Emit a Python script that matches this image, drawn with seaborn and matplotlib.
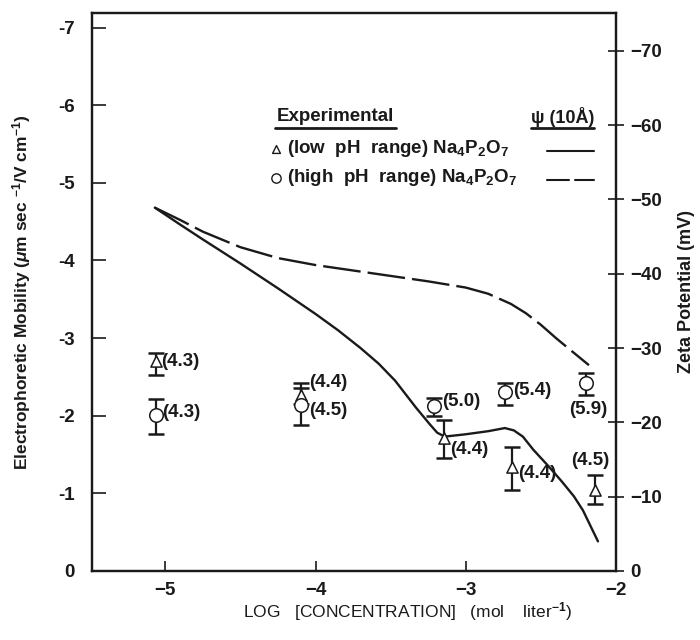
import matplotlib
matplotlib.use("Agg")
import matplotlib.pyplot as plt
import seaborn as sns
from matplotlib.lines import Line2D
from matplotlib.ticker import FixedLocator, FixedFormatter

# ---------------- data ----------------
# low pH range (triangles)
tri_x = [-5.065, -4.10, -3.145, -2.69, -2.14]
tri_y = [-2.70, -2.27, -1.71, -1.34, -1.04]
tri_lo = [-2.81, -2.42, -1.94, -1.60, -1.24]
tri_hi = [-2.52, -2.15, -1.45, -1.04, -0.86]
tri_labels = ["(4.3)", "(4.4)", "(4.4)", "(4.4)", "(4.5)"]

# high pH range (circles)
circ_x = [-5.065, -4.10, -3.21, -2.74, -2.20]
circ_y = [-2.01, -2.14, -2.12, -2.30, -2.42]
circ_lo = [-2.21, -2.36, -2.23, -2.42, -2.55]
circ_hi = [-1.76, -1.88, -2.00, -2.14, -2.26]
circ_labels = ["(4.3)", "(4.5)", "(5.0)", "(5.4)", "(5.9)"]

# psi(10 A) theory, low pH (solid)
solid_x = [-5.07, -4.9, -4.75, -4.5, -4.25, -4.0, -3.85, -3.70, -3.58, -3.47,
           -3.33, -3.24, -3.19, -3.14, -3.0, -2.85, -2.74, -2.68, -2.62, -2.55,
           -2.45, -2.36, -2.28, -2.22, -2.12]
solid_y = [-4.68, -4.46, -4.27, -3.96, -3.64, -3.31, -3.10, -2.87, -2.67, -2.45,
           -2.10, -1.89, -1.78, -1.73, -1.76, -1.80, -1.84, -1.81, -1.73, -1.56,
           -1.35, -1.15, -0.96, -0.78, -0.38]

# psi(10 A) theory, high pH (dashed)
dashed_x = [-5.07, -4.9, -4.75, -4.5, -4.25, -4.0, -3.75, -3.5, -3.25, -3.0,
            -2.85, -2.7, -2.6, -2.5, -2.4, -2.3, -2.18]
dashed_y = [-4.68, -4.52, -4.37, -4.17, -4.03, -3.94, -3.87, -3.80, -3.73, -3.65,
            -3.57, -3.44, -3.32, -3.17, -3.00, -2.84, -2.65]

x_ticks = [-5, -4, -3, -2]
x_tick_labels = ["\u22125", "\u22124", "\u22123", "\u22122"]
y_ticks = [0, -1, -2, -3, -4, -5, -6, -7]
y_tick_labels = ["0", "-1", "-2", "-3", "-4", "-5", "-6", "-7"]
zeta_ticks = [0, -10, -20, -30, -40, -50, -60, -70]
zeta_tick_labels = ["0", "\u221210", "\u221220", "\u221230", "\u221240",
                    "\u221250", "\u221260", "\u221270"]
zeta_per_mobility = 10.45

# ---------------- style ----------------
sns.set_theme(style="ticks")
plt.rcParams['font.family'] = ['Liberation Sans', 'DejaVu Sans']
plt.rcParams['font.weight'] = 'bold'
plt.rcParams['mathtext.fontset'] = 'custom'
plt.rcParams['mathtext.rm'] = 'Liberation Sans:bold'
plt.rcParams['mathtext.it'] = 'Liberation Sans:italic:bold'
plt.rcParams['mathtext.bf'] = 'Liberation Sans:bold'
plt.rcParams['mathtext.default'] = 'rm'

ink = '#1a1a1a'
fig = plt.figure(figsize=(7, 6.4), dpi=100)
ax = fig.add_axes([0.131, 0.108, 0.749, 0.872])

# theory curves
sns.lineplot(x=solid_x, y=solid_y, sort=False, ax=ax, color=ink, lw=1.7,
             estimator=None)
sns.lineplot(x=dashed_x, y=dashed_y, sort=False, ax=ax, color=ink, lw=1.7,
             estimator=None, linestyle=(0, (16, 3)))

# error bars
ax.errorbar(tri_x, tri_y,
            yerr=[[y - lo for y, lo in zip(tri_y, tri_lo)],
                  [hi - y for y, hi in zip(tri_y, tri_hi)]],
            fmt='none', ecolor=ink, elinewidth=1.6, capsize=5.5, capthick=1.8,
            zorder=3)
ax.errorbar(circ_x, circ_y,
            yerr=[[y - lo for y, lo in zip(circ_y, circ_lo)],
                  [hi - y for y, hi in zip(circ_y, circ_hi)]],
            fmt='none', ecolor=ink, elinewidth=1.6, capsize=5.5, capthick=1.8,
            zorder=3)

# markers
sns.scatterplot(x=tri_x, y=tri_y, marker='^', s=65, color='white',
                edgecolor=ink, linewidth=1.1, ax=ax, zorder=4)
sns.scatterplot(x=circ_x, y=circ_y, marker='o', s=95, color='white',
                edgecolor=ink, linewidth=1.1, ax=ax, zorder=4)

# point labels (pH)
tri_offsets = [(6, 0, 'left'), (9, 12, 'left'), (6, -11, 'left'),
               (6, -7, 'left'), (-5, 30, 'center')]
circ_offsets = [(7, 2, 'left'), (9, -6, 'left'), (8, 5, 'left'),
                (8, 2, 'left'), (2, -26, 'center')]
for x, y, t, (dx, dy, ha) in zip(tri_x, tri_y, tri_labels, tri_offsets):
    ax.annotate(t, (x, y), xytext=(dx, dy), textcoords='offset pixels',
                ha=ha, va='center', fontsize=13.5, fontweight='bold', color=ink)
for x, y, t, (dx, dy, ha) in zip(circ_x, circ_y, circ_labels, circ_offsets):
    ax.annotate(t, (x, y), xytext=(dx, dy), textcoords='offset pixels',
                ha=ha, va='center', fontsize=13.5, fontweight='bold', color=ink)

# axes limits / ticks
ax.set_xlim(-5.49, -2.0)
ax.set_ylim(0, -7.19)
ax.xaxis.set_major_locator(FixedLocator(x_ticks))
ax.xaxis.set_major_formatter(FixedFormatter(x_tick_labels))
ax.yaxis.set_major_locator(FixedLocator(y_ticks))
ax.yaxis.set_major_formatter(FixedFormatter(y_tick_labels))
ax.tick_params(axis='y', direction='in', length=10, width=1.2, pad=12,
               labelsize=13.5, colors=ink)
ax.tick_params(axis='x', direction='in', length=7, width=1.2, pad=8,
               labelsize=13.5, colors=ink)
for s in ax.spines.values():
    s.set_linewidth(1.6)
    s.set_color(ink)

ax2 = ax.twinx()
ax2.set_ylim(0, -7.19 * zeta_per_mobility)
ax2.yaxis.set_major_locator(FixedLocator(zeta_ticks))
ax2.yaxis.set_major_formatter(FixedFormatter(zeta_tick_labels))
ax2.tick_params(axis='y', direction='inout', length=12, width=1.2, pad=4,
                labelsize=13.5, colors=ink)
for s in ax2.spines.values():
    s.set_linewidth(1.6)
    s.set_color(ink)

ax.set_ylabel("Electrophoretic Mobility ($\\mathit{\\mu}$m sec $^{-1}$/V cm$^{-1}$)",
              fontsize=12.5, fontweight='bold', labelpad=18, color=ink)
ax2.set_ylabel("Zeta Potential (mV)", fontsize=13, fontweight='bold',
               labelpad=12, color=ink)
fig.text(408 / 700, 1 - 612 / 640,
         "LOG   [CONCENTRATION]   (mol    liter$^{-1}$)",
         ha='center', va='center', fontsize=12.5, fontweight='normal', color=ink)

# legend (custom layout)
tA = ax.transAxes
ax.text(0.352, 0.814, "Experimental", transform=tA, ha='left', va='center',
        fontsize=13.5, fontweight='bold', color=ink)
ax.add_line(Line2D([0.350, 0.580], [0.794, 0.794], transform=tA, color=ink, lw=2))
ax.text(0.958, 0.814, "\u03c8 (10\u00c5)", transform=tA, ha='right', va='center',
        fontsize=13, fontweight='bold', color=ink)
ax.add_line(Line2D([0.838, 0.958], [0.794, 0.794], transform=tA, color=ink, lw=2))

ax.scatter([0.351], [0.756], transform=tA, marker='^', s=32, facecolor='white',
           edgecolor=ink, linewidth=1.0, zorder=5, clip_on=False)
ax.text(0.373, 0.756, "(low  pH  range) Na$_4$P$_2$O$_7$", transform=tA,
        ha='left', va='center', fontsize=13.5, fontweight='bold', color=ink)
ax.add_line(Line2D([0.868, 0.958], [0.752, 0.752], transform=tA, color=ink, lw=1.5))

ax.scatter([0.351], [0.704], transform=tA, marker='o', s=45, facecolor='white',
           edgecolor=ink, linewidth=1.0, zorder=5, clip_on=False)
ax.text(0.373, 0.704, "(high  pH  range) Na$_4$P$_2$O$_7$", transform=tA,
        ha='left', va='center', fontsize=13.5, fontweight='bold', color=ink)
ax.add_line(Line2D([0.868, 0.910], [0.701, 0.701], transform=tA, color=ink, lw=1.5))
ax.add_line(Line2D([0.921, 0.958], [0.701, 0.701], transform=tA, color=ink, lw=1.5))

fig.savefig("out.png", dpi=100)
